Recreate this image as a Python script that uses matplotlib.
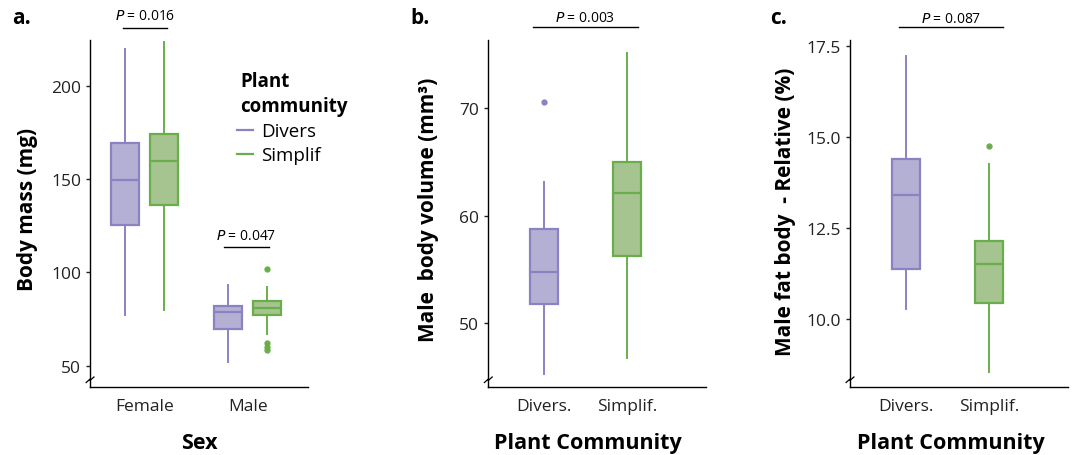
import matplotlib
matplotlib.use("Agg")
import matplotlib.pyplot as plt
from matplotlib.lines import Line2D

plt.rcParams['font.family'] = ['Open Sans', 'DejaVu Sans']

# colours for the two plant communities
PURPLE_EDGE = '#8b82c2'
PURPLE_FILL = '#b4b0d3'
GREEN_EDGE = '#6aae4c'
GREEN_FILL = '#a5c490'

groups = ['Divers', 'Simplif']

# panel a: body mass (mg) by sex and community
sex_labels = ['Female', 'Male']
mass_whislo = [[76.9, 79.6], [51.8, 67.0]]
mass_q1 = [[125.3, 136.0], [69.7, 76.9]]
mass_med = [[149.6, 159.8], [78.9, 80.8]]
mass_q3 = [[169.4, 174.4], [82.1, 84.9]]
mass_whishi = [[219.9, 223.8], [93.0, 92.3]]
mass_fliers = [[[], []], [[], [102.0, 62.4, 60.0, 58.4]]]
mass_p = ['0.016', '0.047']

# panel b: male body volume (mm3)
vol_whislo = [45.3, 46.8]
vol_q1 = [51.8, 56.25]
vol_med = [54.8, 62.1]
vol_q3 = [58.8, 65.0]
vol_whishi = [63.1, 75.1]
vol_fliers = [[70.6], []]
vol_p = '0.003'

# panel c: male relative fat body (%)
fat_whislo = [10.27, 8.54]
fat_q1 = [11.37, 10.44]
fat_med = [13.41, 11.51]
fat_q3 = [14.41, 12.15]
fat_whishi = [17.22, 14.27]
fat_fliers = [[], [14.75]]
fat_p = '0.087'

comm_labels = ['Divers.', 'Simplif.']


def draw_box(ax, stats, pos, width, edge, fill):
    ax.bxp([stats], positions=[pos], widths=width, patch_artist=True,
           showcaps=False, manage_ticks=False,
           boxprops=dict(facecolor=fill, edgecolor=edge, linewidth=1.6),
           medianprops=dict(color=edge, linewidth=1.6),
           whiskerprops=dict(color=edge, linewidth=1.4),
           flierprops=dict(marker='o', markersize=3.5, markerfacecolor=edge,
                           markeredgecolor=edge, linestyle='none'))


def stat(lo, q1, med, q3, hi, fl):
    return dict(whislo=lo, q1=q1, med=med, q3=q3, whishi=hi, fliers=fl)


def style_axes(ax, ylabel, xlabel, ylab_x, ylab_y, xlab_x):
    for s in ['top', 'right']:
        ax.spines[s].set_visible(False)
    ax.spines['left'].set_linewidth(1.0)
    ax.spines['bottom'].set_linewidth(1.0)
    ax.tick_params(axis='y', length=3, width=1, pad=3.5, labelsize=12.5, colors='#222222')
    ax.tick_params(axis='x', length=0, pad=8, labelsize=12.5, colors='#222222')
    ax.set_ylabel(ylabel, fontsize=15, fontweight='bold', va='center')
    ax.set_xlabel(xlabel, fontsize=15.5, fontweight='bold', va='center')
    ax.yaxis.set_label_coords(ylab_x, ylab_y)
    ax.xaxis.set_label_coords(xlab_x, -0.16)
    # axis break mark
    ax.plot([-0.018, 0.0, 0.0, 0.018], [0.012, 0.022, 0.018, 0.028], transform=ax.transAxes,
            color='black', lw=0.9, clip_on=False)


def p_bar(ax, x0, x1, y, ty, txt):
    ax.plot([x0, x1], [y, y], color='black', lw=1.0, clip_on=False)
    ax.text((x0 + x1) / 2, ty, '$P$ = ' + txt, ha='center', va='center',
            fontsize=10, clip_on=False)


fig = plt.figure(figsize=(10.72, 4.56), dpi=100)
ax_a = fig.add_axes([0.0840, 0.1498, 0.2034, 0.7603])
ax_b = fig.add_axes([0.4555, 0.1498, 0.2031, 0.7603])
ax_c = fig.add_axes([0.7929, 0.1498, 0.2034, 0.7603])

edges = [PURPLE_EDGE, GREEN_EDGE]
fills = [PURPLE_FILL, GREEN_FILL]

# panel a
off = 0.189
for i in range(2):
    for j in range(2):
        st = stat(mass_whislo[i][j], mass_q1[i][j], mass_med[i][j],
                  mass_q3[i][j], mass_whishi[i][j], mass_fliers[i][j])
        draw_box(ax_a, st, i + 1 + (j - 0.5) * 2 * off, 0.27, edges[j], fills[j])
ax_a.set_xlim(0.471, 2.587)
ax_a.set_ylim(38.7, 224.7)
ax_a.set_yticks([50, 100, 150, 200])
ax_a.set_xticks([1, 2])
ax_a.set_xticklabels(sex_labels)
style_axes(ax_a, 'Body mass (mg)', 'Sex', -0.289, 0.513, 0.5)
p_bar(ax_a, 0.788, 1.221, 231.3, 237.6, mass_p[0])
p_bar(ax_a, 1.772, 2.206, 113.4, 119.8, mass_p[1])
handles = [Line2D([], [], color=edges[k], lw=1.6) for k in range(2)]
leg = ax_a.legend(handles, groups, title='Plant\ncommunity', frameon=False,
                  loc='upper left', bbox_to_anchor=(0.64, 0.932), handlelength=0.85,
                  handletextpad=0.45, labelspacing=0.32, fontsize=13.5,
                  title_fontproperties=dict(weight='bold', size=13.5),
                  alignment='left', borderaxespad=0)
leg.get_title().set_linespacing(1.35)
leg.get_title().set_x(3)

# panel b
vb = [stat(vol_whislo[j], vol_q1[j], vol_med[j], vol_q3[j], vol_whishi[j], vol_fliers[j])
      for j in range(2)]
for j in range(2):
    draw_box(ax_b, vb[j], j + 1, 0.337, edges[j], fills[j])
ax_b.set_xlim(0.329, 2.952)
ax_b.set_ylim(44.1, 76.35)
ax_b.set_yticks([50, 60, 70])
ax_b.set_xticks([1, 2])
ax_b.set_xticklabels(comm_labels)
style_axes(ax_b, 'Male  body volume (mm³)', 'Plant Community', -0.276, 0.513, 0.458)
p_bar(ax_b, 0.871, 2.129, 77.53, 78.4, vol_p)

# panel c
vc = [stat(fat_whislo[j], fat_q1[j], fat_med[j], fat_q3[j], fat_whishi[j], fat_fliers[j])
      for j in range(2)]
for j in range(2):
    draw_box(ax_c, vc[j], j + 1, 0.337, edges[j], fills[j])
ax_c.set_xlim(0.334, 2.941)
ax_c.set_ylim(8.14, 17.67)
ax_c.set_yticks([10.0, 12.5, 15.0, 17.5])
ax_c.set_yticklabels(['10.0', '12.5', '15.0', '17.5'])
ax_c.set_xticks([1, 2])
ax_c.set_xticklabels(comm_labels)
style_axes(ax_c, 'Male fat body  - Relative (%)', 'Plant Community', -0.298, 0.506, 0.462)
p_bar(ax_c, 0.923, 2.167, 18.02, 18.27, fat_p)

# panel letters
for x, lab in [(12, 'a.'), (410, 'b.'), (770, 'c.')]:
    fig.text(x / 1072, 1 - 18 / 456, lab, fontsize=15, fontweight='bold', va='center')

fig.savefig('out.png', dpi=100)
